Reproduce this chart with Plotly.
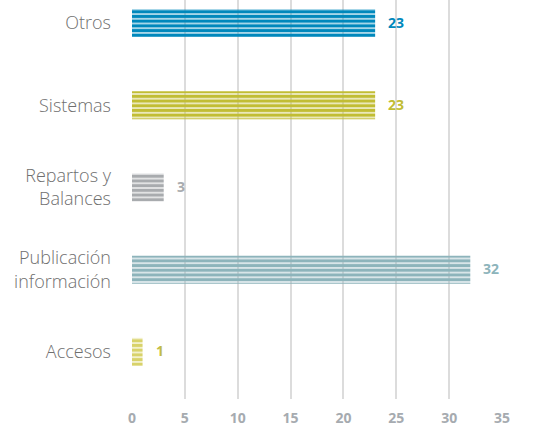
import plotly.graph_objects as go

categories = ["Accesos", "Publicación<br>información", "Repartos y<br>Balances", "Sistemas", "Otros"]
values = [1, 32, 3, 23, 23]
colors = ["#d8d26a", "#8db4bb", "#a8abae", "#c1bd34", "#0088bc"]
label_colors = ["#c2bc48", "#8db4bb", "#a8abae", "#c1bd34", "#0088bc"]
x_ticks = [0, 5, 10, 15, 20, 25, 30, 35]

fig = go.Figure()
fig.add_trace(go.Bar(
    x=values, y=categories, orientation="h",
    marker=dict(
        color=colors, line=dict(width=0),
        pattern=dict(shape="-", size=4.7, solidity=0.74, fillmode="replace"),
    ),
    hoverinfo="skip",
))

for cat, v, c in zip(categories, values, label_colors):
    fig.add_annotation(x=v, y=cat, text=f"<b>{v}</b>", showarrow=False,
                       xanchor="left", xshift=11, yshift=1,
                       font=dict(family="Open Sans", size=14, color=c))

fig.update_layout(
    width=537, height=428,
    margin=dict(l=132, r=35, t=0, b=29, autoexpand=False),
    plot_bgcolor="white", paper_bgcolor="white",
    bargap=0.66,
    showlegend=False,
    xaxis=dict(range=[0, 35], tickvals=x_ticks, showgrid=True,
               gridcolor="#dcdcdc", gridwidth=1.5, zeroline=False,
               showline=False, ticks="", ticklabelstandoff=9,
               tickfont=dict(family="Open Sans", size=14, color="#a6abb0", weight="bold")),
    yaxis=dict(type="category", categoryorder="array", categoryarray=categories,
               range=[-0.573, 4.28], showgrid=False, zeroline=False, showline=False,
               ticks="", ticklabelstandoff=20,
               tickfont=dict(family="Open Sans", size=18, color="#6f6f6f", weight=300)),
)
fig.write_html("out.html", config={"displayModeBar": False},
               post_script="document.body.style.margin='0';")
